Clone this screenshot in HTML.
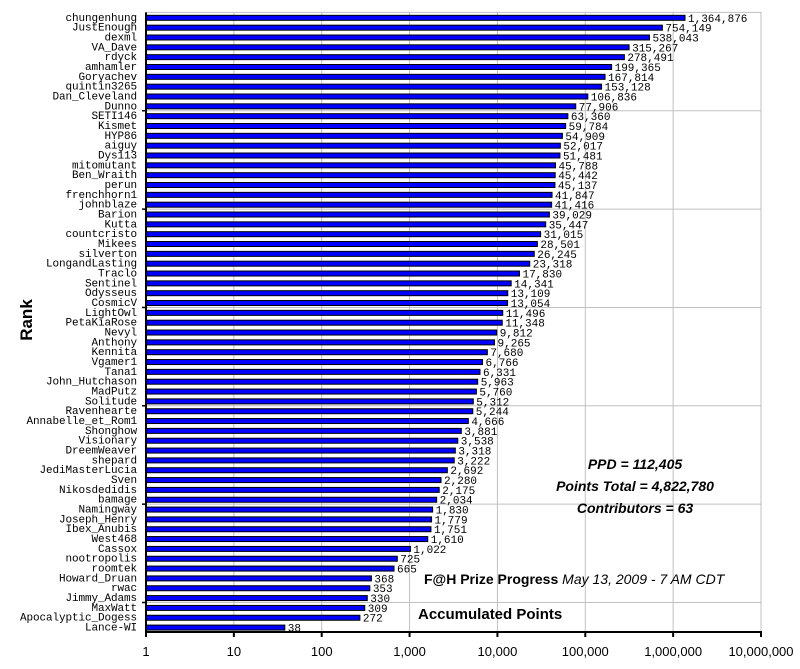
<!DOCTYPE html>
<html><head><meta charset="utf-8"><style>
body{margin:0;background:#fff;width:800px;height:669px;overflow:hidden}
svg{display:block}
.lbl{font-family:"Liberation Mono",monospace;font-size:11px;fill:#000}
.tick{font-family:"Liberation Sans",sans-serif;font-size:13px;fill:#000}
.info{font-family:"Liberation Sans",sans-serif;font-size:14px;font-weight:bold;font-style:italic;fill:#000}
</style></head><body>
<svg id="chart" width="800" height="669" xmlns="http://www.w3.org/2000/svg">
<g id="grid"></g>
<g id="bars"></g>
<g id="axes"></g>
<text x="32" y="320" transform="rotate(-90 32 320)" text-anchor="middle" font-family="Liberation Sans,sans-serif" font-size="17" font-weight="bold">Rank</text>
<text class="info" x="635" y="469" text-anchor="middle">PPD = 112,405</text>
<text class="info" x="635" y="491" text-anchor="middle">Points Total = 4,822,780</text>
<text class="info" x="635" y="513" text-anchor="middle">Contributors = 63</text>
<text x="424" y="584" font-family="Liberation Sans,sans-serif" font-size="14"><tspan font-weight="bold">F@H Prize Progress</tspan> <tspan font-style="italic">May 13, 2009 - 7 AM CDT</tspan></text>
<text x="418" y="619" font-family="Liberation Sans,sans-serif" font-size="15" font-weight="bold">Accumulated Points</text>
</svg>
<script>
const names=["chungenhung","JustEnough","dexml","VA_Dave","rdyck","amhamler","Goryachev","quintin3265","Dan_Cleveland","Dunno","SETI146","Kismet","HYP86","aiguy","Dys113","mitomutant","Ben_Wraith","perun","frenchhorn1","johnblaze","Barion","Kutta","countcristo","Mikees","silverton","LongandLasting","Traclo","Sentinel","Odysseus","CosmicV","LightOwl","PetaKiaRose","Nevyl","Anthony","Kennita","Vgamer1","Tana1","John_Hutchason","MadPutz","Solitude","Ravenhearte","Annabelle_et_Rom1","Shonghow","Visionary","DreemWeaver","shepard","JediMasterLucia","Sven","Nikosdedidis","bamage","Namingway","Joseph_Henry","Ibex_Anubis","West468","Cassox","nootropolis","roomtek","Howard_Druan","rwac","Jimmy_Adams","MaxWatt","Apocalyptic_Dogess","Lance-WI"];
const points=[1364876,754149,538043,315267,278491,199365,167814,153128,106836,77906,63360,59784,54909,52017,51481,45788,45442,45137,41847,41416,39029,35447,31015,28501,26245,23318,17830,14341,13109,13054,11496,11348,9812,9265,7680,6766,6331,5963,5760,5312,5244,4666,3881,3538,3318,3222,2692,2280,2175,2034,1830,1779,1751,1610,1022,725,665,368,353,330,309,272,38];
const xTicks=[1,10,100,1000,10000,100000,1000000,10000000];
const xTickLabels=["1","10","100","1,000","10,000","100,000","1,000,000","10,000,000"];
const NS="http://www.w3.org/2000/svg";
const X0=146,X1=761,Y0=12.4,Y1=632;
const band=(Y1-Y0)/names.length;
function xs(v){return X0+(Math.log10(v)-0)/7*(X1-X0);}
function ys(i){return Y0+i*band;}
function mk(p,tag,at){const e=document.createElementNS(NS,tag);for(const k in at)e.setAttribute(k,at[k]);p.appendChild(e);return e;}
const grid=document.getElementById('grid'),bars=document.getElementById('bars'),axes=document.getElementById('axes');
let r=mk(grid,'rect',{x:X0,y:Y0,width:X1-X0,height:Y1-Y0,fill:'none',stroke:'#c0c0c0'});


xTicks.forEach((t,i)=>{
  const x=xs(t);
  if(i>0){const g=mk(grid,'line',{x1:x,x2:x,y1:Y0,y2:Y1,stroke:'#c0c0c0'});
  
  }
  const tk=mk(axes,'line',{x1:x,x2:x,y1:Y1,y2:Y1+5,stroke:'#000','stroke-width':2});
  
  
  const tl=mk(axes,'text',{x:x,y:656,'text-anchor':'middle',class:'tick'});
  tl.textContent=xTickLabels[i];
  
  
});
for(let i=10;i<names.length;i+=10){
  const y=ys(i);
  const g=mk(grid,'line',{x1:X0,x2:X1,y1:y,y2:y,stroke:'#c0c0c0'});
  
  
  const tk=mk(axes,'line',{x1:X0-4,x2:X0,y1:y,y2:y,stroke:'#000','stroke-width':1.5});
  
  
}
names.forEach((n,i)=>{
  const yc=ys(i)+band/2+0.5;
  const b=mk(bars,'rect',{x:X0,y:yc-2.5,width:xs(points[i])-X0,height:5,fill:'#0000ff',stroke:'#000','stroke-width':1});
  
  
  const l=mk(bars,'text',{x:137,y:yc+3,'text-anchor':'end',class:'lbl','letter-spacing':'-0.1'});
  l.textContent=n;
  
  
  const v=mk(bars,'text',{x:xs(points[i])+3,y:yc+4,class:'lbl'});
  v.textContent=points[i].toLocaleString('en-US');
  
  
});
const ya=mk(axes,'line',{x1:X0,x2:X0,y1:Y0,y2:Y1+1,stroke:'#000','stroke-width':2});


const xa=mk(axes,'line',{x1:X0-1,x2:X1+1,y1:Y1,y2:Y1,stroke:'#000','stroke-width':2});


</script>
</body></html>
